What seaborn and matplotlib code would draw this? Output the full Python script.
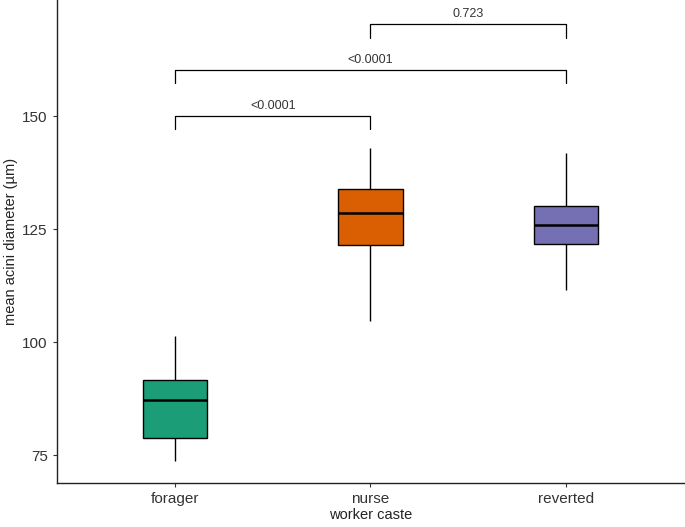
import numpy as np
import pandas as pd
import seaborn as sns
import matplotlib.pyplot as plt

# five-number summaries (low whisker, Q1, median, Q3, high whisker)
castes = ['forager', 'nurse', 'reverted']
forager = [73.7, 78.8, 87.2, 91.6, 101.3]
nurse = [104.6, 121.5, 128.5, 133.8, 142.9]
reverted = [111.5, 121.7, 125.9, 130.1, 141.8]
colors = ['#1B9E77', '#D95F02', '#7570B3']

# pairwise comparisons: (group a, group b, bracket height, label)
pairs = [('forager', 'nurse', 150.0, '<0.0001'),
         ('forager', 'reverted', 160.2, '<0.0001'),
         ('nurse', 'reverted', 170.3, '0.723')]

df = pd.DataFrame({
  'caste': np.repeat(castes, 5),
  'diameter': forager + nurse + reverted})

sns.set_style('white')
plt.rcParams['font.family'] = ['Liberation Sans', 'DejaVu Sans']

fig = plt.figure(figsize=(6.85, 5.27), dpi=100)
ax = fig.add_axes([0.083, 0.083, 0.917, 0.917])

sns.boxplot(data=df, x='caste', y='diameter', hue='caste',
  palette=colors, order=castes, width=0.33, whis=np.inf,
  linecolor='black', linewidth=1, saturation=1, legend=False, ax=ax,
  showcaps=False, medianprops={'linewidth': 1.8})

# significance brackets
for a, b, h, lab in pairs:
  x1, x2 = castes.index(a), castes.index(b)
  ax.plot([x1, x1, x2, x2], [h - 2.9, h, h, h - 2.9],
    color='black', lw=0.9)
  ax.text((x1 + x2) / 2, h + 1.0, lab, ha='center', va='bottom',
    fontsize=9, color='#333333')

ax.set_xlim(-0.605, 2.61)
ax.set_ylim(68.8, 175.7)
ax.set_yticks([75, 100, 125, 150])
ax.set_xlabel('worker caste', fontsize=10.5, color='#222222', labelpad=1)
ax.set_ylabel('mean acini diameter (µm)', fontsize=10.5,
  color='#222222', labelpad=3)
ax.tick_params(axis='both', labelsize=11, labelcolor='#333333',
  length=3, width=0.8, color='#333333', left=True, bottom=True)
sns.despine(ax=ax)
for s in ['left', 'bottom']:
  ax.spines[s].set_color('#222222')
  ax.spines[s].set_linewidth(1)

fig.savefig('out.png', dpi=100)
